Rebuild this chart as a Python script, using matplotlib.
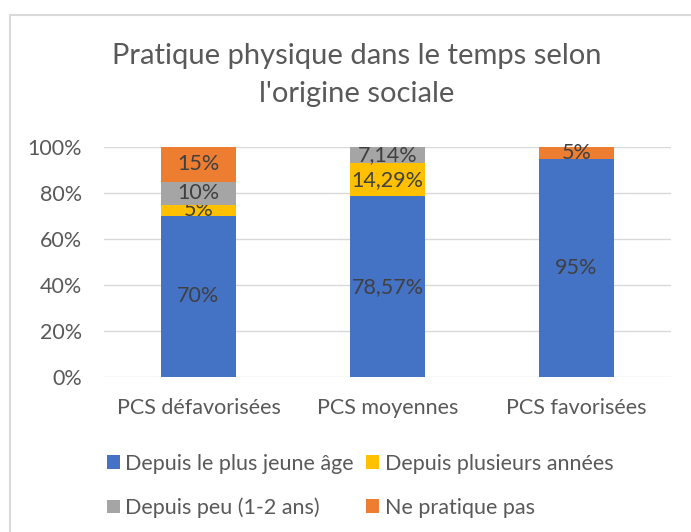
import numpy as np
import matplotlib.pyplot as plt
from matplotlib.lines import Line2D

categories = ['PCS défavorisées', 'PCS moyennes', 'PCS favorisées']
series_names = ['Depuis le plus jeune âge', 'Depuis plusieurs années',
                'Depuis peu (1-2 ans)', 'Ne pratique pas']
jeune_age = [70, 78.57, 95]
plusieurs_annees = [5, 14.29, 0]
depuis_peu = [10, 7.14, 0]
ne_pratique_pas = [15, 0, 5]
labels = [['70%', '78,57%', '95%'],
          ['5%', '14,29%', ''],
          ['10%', '7,14%', ''],
          ['15%', '', '5%']]
colors = ['#4472C4', '#FFC000', '#A5A5A5', '#ED7D31']

plt.rcParams['font.family'] = ['Lato', 'DejaVu Sans']
txt = '#595959'

fig = plt.figure(figsize=(6.91, 5.32), dpi=100)
ax = fig.add_axes([104 / 691, 1 - 377 / 532, 567 / 691, 230 / 532])

x = np.arange(len(categories))
bottom = np.zeros(len(categories))
for vals, name, col, labs in zip([jeune_age, plusieurs_annees, depuis_peu, ne_pratique_pas],
                                 series_names, colors, labels):
    vals = np.array(vals, dtype=float)
    bars = ax.bar(x, vals, 0.4, bottom=bottom, color=col, label=name, zorder=3)
    ax.bar_label(bars, labels=labs, label_type='center', color='#404040', fontsize=15.5)
    bottom += vals

ax.set_xlim(-0.5, 2.5)
ax.set_ylim(0, 100)
ax.set_yticks(np.arange(0, 101, 20))
ax.set_yticklabels([f'{v}%' for v in range(0, 101, 20)])
ax.set_xticks(x)
ax.set_xticklabels(categories)
ax.tick_params(length=0, labelsize=15.5, labelcolor=txt)
ax.tick_params(axis='y', pad=16)
ax.tick_params(axis='x', pad=15)
ax.grid(axis='y', color='#D9D9D9', linewidth=1, zorder=0)
for s in ax.spines.values():
    s.set_visible(False)

fig.text(357 / 691, 1 - 75 / 532, "Pratique physique dans le temps selon\nl'origine sociale",
         ha='center', va='center', fontsize=21, color=txt, linespacing=1.55)

h, l = ax.get_legend_handles_labels()
order = [0, 2, 1, 3]
leg = fig.legend([h[i] for i in order], [l[i] for i in order],
                 loc='center', bbox_to_anchor=(360 / 691, 1 - 486 / 532), ncol=2,
                 frameon=False, fontsize=15.5, labelcolor=txt, handlelength=0.6,
                 handleheight=0.6, handletextpad=0.25, columnspacing=0.6,
                 labelspacing=1.1)

fig.add_artist(Line2D([10 / 691, 10 / 691], [0, 1 - 15 / 532], color='#D9D9D9', lw=1.5))
fig.add_artist(Line2D([10 / 691, 1], [1 - 15 / 532, 1 - 15 / 532], color='#D9D9D9', lw=1.5))

fig.savefig('out.png', dpi=100)
